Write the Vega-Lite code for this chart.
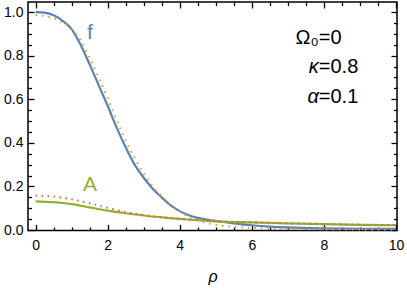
{
  "$schema": "https://vega.github.io/schema/vega-lite/v6.json",
  "width": 369,
  "height": 228.5,
  "autosize": {"type": "none"},
  "padding": {"left": 28, "top": 2, "right": 10, "bottom": 57},
  "background": "white",
  "config": {
    "view": {"stroke": "black", "strokeWidth": 1.5},
    "font": "Liberation Sans",
    "axis": {
      "domain": false,
      "ticks": true,
      "tickColor": "black",
      "tickWidth": 1.3,
      "tickOpacity": 1,
      "labelColor": "black",
      "labelFont": "Liberation Sans",
      "labelFontSize": 14,
      "grid": false,
      "labelOverlap": false,
      "labelFlush": false,
      "zindex": 1
    }
  },
  "datasets": {
    "curves": [
      {"rho": 0, "value": 1.0, "series": "f"},
      {"rho": 0.25, "value": 0.997, "series": "f"},
      {"rho": 0.5, "value": 0.985, "series": "f"},
      {"rho": 0.75, "value": 0.96, "series": "f"},
      {"rho": 1.0, "value": 0.922, "series": "f"},
      {"rho": 1.25, "value": 0.85, "series": "f"},
      {"rho": 1.5, "value": 0.76, "series": "f"},
      {"rho": 1.75, "value": 0.665, "series": "f"},
      {"rho": 2.0, "value": 0.57, "series": "f"},
      {"rho": 2.25, "value": 0.47, "series": "f"},
      {"rho": 2.5, "value": 0.38, "series": "f"},
      {"rho": 2.75, "value": 0.30, "series": "f"},
      {"rho": 3.0, "value": 0.24, "series": "f"},
      {"rho": 3.25, "value": 0.19, "series": "f"},
      {"rho": 3.5, "value": 0.15, "series": "f"},
      {"rho": 3.75, "value": 0.113, "series": "f"},
      {"rho": 4.0, "value": 0.087, "series": "f"},
      {"rho": 4.25, "value": 0.068, "series": "f"},
      {"rho": 4.5, "value": 0.056, "series": "f"},
      {"rho": 4.75, "value": 0.048, "series": "f"},
      {"rho": 5.0, "value": 0.042, "series": "f"},
      {"rho": 5.5, "value": 0.031, "series": "f"},
      {"rho": 6.0, "value": 0.022, "series": "f"},
      {"rho": 6.5, "value": 0.016, "series": "f"},
      {"rho": 7.0, "value": 0.012, "series": "f"},
      {"rho": 8.0, "value": 0.008, "series": "f"},
      {"rho": 9.0, "value": 0.006, "series": "f"},
      {"rho": 10.0, "value": 0.005, "series": "f"},

      {"rho": 0, "value": 0.132, "series": "A"},
      {"rho": 0.5, "value": 0.128, "series": "A"},
      {"rho": 1.0, "value": 0.119, "series": "A"},
      {"rho": 1.5, "value": 0.104, "series": "A"},
      {"rho": 2.0, "value": 0.089, "series": "A"},
      {"rho": 2.5, "value": 0.077, "series": "A"},
      {"rho": 3.0, "value": 0.067, "series": "A"},
      {"rho": 3.5, "value": 0.058, "series": "A"},
      {"rho": 4.0, "value": 0.051, "series": "A"},
      {"rho": 4.5, "value": 0.045, "series": "A"},
      {"rho": 5.0, "value": 0.040, "series": "A"},
      {"rho": 6.0, "value": 0.035, "series": "A"},
      {"rho": 7.0, "value": 0.031, "series": "A"},
      {"rho": 8.0, "value": 0.027, "series": "A"},
      {"rho": 9.0, "value": 0.024, "series": "A"},
      {"rho": 10.0, "value": 0.022, "series": "A"},

      {"rho": 0, "value": 0.985, "series": "f0"},
      {"rho": 0.25, "value": 0.982, "series": "f0"},
      {"rho": 0.5, "value": 0.972, "series": "f0"},
      {"rho": 0.75, "value": 0.952, "series": "f0"},
      {"rho": 1.0, "value": 0.92, "series": "f0"},
      {"rho": 1.25, "value": 0.87, "series": "f0"},
      {"rho": 1.5, "value": 0.79, "series": "f0"},
      {"rho": 1.75, "value": 0.70, "series": "f0"},
      {"rho": 2.0, "value": 0.605, "series": "f0"},
      {"rho": 2.25, "value": 0.505, "series": "f0"},
      {"rho": 2.5, "value": 0.41, "series": "f0"},
      {"rho": 2.75, "value": 0.33, "series": "f0"},
      {"rho": 3.0, "value": 0.26, "series": "f0"},
      {"rho": 3.25, "value": 0.20, "series": "f0"},
      {"rho": 3.5, "value": 0.155, "series": "f0"},
      {"rho": 3.75, "value": 0.115, "series": "f0"},
      {"rho": 4.0, "value": 0.085, "series": "f0"},
      {"rho": 4.25, "value": 0.062, "series": "f0"},
      {"rho": 4.5, "value": 0.045, "series": "f0"},
      {"rho": 4.75, "value": 0.033, "series": "f0"},
      {"rho": 5.0, "value": 0.024, "series": "f0"},
      {"rho": 5.5, "value": 0.015, "series": "f0"},
      {"rho": 6.0, "value": 0.01, "series": "f0"},
      {"rho": 7.0, "value": 0.005, "series": "f0"},
      {"rho": 8.0, "value": 0.003, "series": "f0"},
      {"rho": 9.0, "value": 0.002, "series": "f0"},
      {"rho": 10.0, "value": 0.001, "series": "f0"},

      {"rho": 0, "value": 0.158, "series": "A0"},
      {"rho": 0.5, "value": 0.154, "series": "A0"},
      {"rho": 1.0, "value": 0.141, "series": "A0"},
      {"rho": 1.5, "value": 0.123, "series": "A0"},
      {"rho": 2.0, "value": 0.102, "series": "A0"},
      {"rho": 2.5, "value": 0.083, "series": "A0"},
      {"rho": 3.0, "value": 0.069, "series": "A0"},
      {"rho": 3.5, "value": 0.059, "series": "A0"},
      {"rho": 4.0, "value": 0.051, "series": "A0"},
      {"rho": 4.5, "value": 0.046, "series": "A0"},
      {"rho": 5.0, "value": 0.041, "series": "A0"},
      {"rho": 6.0, "value": 0.035, "series": "A0"},
      {"rho": 7.0, "value": 0.031, "series": "A0"},
      {"rho": 8.0, "value": 0.028, "series": "A0"},
      {"rho": 9.0, "value": 0.025, "series": "A0"},
      {"rho": 10.0, "value": 0.023, "series": "A0"}
    ],
    "labels": [
      {"rho": 1.51, "value": 0.906, "text": "f", "color": "f"},
      {"rho": 1.51, "value": 0.206, "text": "A", "color": "A"}
    ],
    "upright_right": [
      {"rho": 7.86, "value": 0.883, "text": "Ω₀"}
    ],
    "italic_right": [
      {"rho": 7.86, "value": 0.75, "text": "κ"},
      {"rho": 7.86, "value": 0.608, "text": "α"}
    ],
    "upright_left": [
      {"rho": 7.86, "value": 0.883, "text": "=0"},
      {"rho": 7.86, "value": 0.75, "text": "=0.8"},
      {"rho": 7.86, "value": 0.608, "text": "=0.1"}
    ]
  },
  "resolve": {"axis": {"x": "independent", "y": "independent"}},
  "layer": [
    {
      "data": {"name": "curves"},
      "transform": [{"filter": "datum.series == 'f'"}],
      "mark": {"type": "line", "color": "#5E81B5", "strokeWidth": 2.2, "interpolate": "monotone"},
      "encoding": {
        "x": {
          "field": "rho", "type": "quantitative",
          "scale": {"domain": [-0.21, 10.03], "nice": false, "zero": false},
          "axis": {
            "orient": "bottom",
            "offset": -6,
            "values": [0, 2, 4, 6, 8, 10],
            "format": "d",
            "tickSize": 6,
            "labelPadding": 8,
            "title": "ρ",
            "titleFont": "Liberation Sans",
            "titleFontStyle": "italic",
            "titleFontWeight": "normal",
            "titleFontSize": 16,
            "titlePadding": 16
          }
        },
        "y": {
          "field": "value", "type": "quantitative",
          "scale": {"domain": [-0.002, 1.046], "nice": false, "zero": false},
          "axis": {
            "orient": "left",
            "offset": -6,
            "values": [0, 0.2, 0.4, 0.6, 0.8, 1.0],
            "format": ".1f",
            "tickSize": 6,
            "labelPadding": 5,
            "title": null
          }
        }
      }
    },
    {
      "data": {"name": "curves"},
      "transform": [{"filter": "datum.series == 'A'"}],
      "mark": {"type": "line", "color": "#8FB032", "strokeWidth": 2.2, "interpolate": "monotone"},
      "encoding": {
        "x": {
          "field": "rho", "type": "quantitative",
          "axis": {
            "orient": "top",
            "offset": -6,
            "values": [0, 2, 4, 6, 8, 10],
            "labels": false,
            "tickSize": 6,
            "title": null
          }
        },
        "y": {
          "field": "value", "type": "quantitative",
          "axis": {
            "orient": "right",
            "offset": -6,
            "values": [0, 0.2, 0.4, 0.6, 0.8, 1.0],
            "labels": false,
            "tickSize": 6,
            "title": null
          }
        }
      }
    },
    {
      "data": {"name": "curves"},
      "transform": [{"filter": "datum.series == 'f0'"}],
      "mark": {"type": "line", "color": "#E19C24", "strokeWidth": 2, "strokeDash": [1.5, 5], "interpolate": "monotone"},
      "encoding": {
        "x": {
          "field": "rho", "type": "quantitative",
          "axis": {
            "orient": "bottom",
            "offset": -3.5,
            "values": [0.5,1,1.5,2.5,3,3.5,4.5,5,5.5,6.5,7,7.5,8.5,9,9.5],
            "labels": false,
            "tickSize": 3.5,
            "title": null
          }
        },
        "y": {
          "field": "value", "type": "quantitative",
          "axis": {
            "orient": "left",
            "offset": -3.5,
            "values": [0.05,0.1,0.15,0.25,0.3,0.35,0.45,0.5,0.55,0.65,0.7,0.75,0.85,0.9,0.95],
            "labels": false,
            "tickSize": 3.5,
            "title": null
          }
        }
      }
    },
    {
      "data": {"name": "curves"},
      "transform": [{"filter": "datum.series == 'A0'"}],
      "mark": {"type": "line", "color": "#EB6235", "strokeWidth": 2, "strokeDash": [1.5, 4.5], "interpolate": "monotone"},
      "encoding": {
        "x": {
          "field": "rho", "type": "quantitative",
          "axis": {
            "orient": "top",
            "offset": -3.5,
            "values": [0.5,1,1.5,2.5,3,3.5,4.5,5,5.5,6.5,7,7.5,8.5,9,9.5],
            "labels": false,
            "tickSize": 3.5,
            "title": null
          }
        },
        "y": {
          "field": "value", "type": "quantitative",
          "axis": {
            "orient": "right",
            "offset": -3.5,
            "values": [0.05,0.1,0.15,0.25,0.3,0.35,0.45,0.5,0.55,0.65,0.7,0.75,0.85,0.9,0.95],
            "labels": false,
            "tickSize": 3.5,
            "title": null
          }
        }
      }
    },
    {
      "data": {"name": "labels"},
      "mark": {"type": "text", "font": "Liberation Sans", "fontSize": 21, "align": "center", "baseline": "middle"},
      "encoding": {
        "x": {"field": "rho", "type": "quantitative", "axis": null},
        "y": {"field": "value", "type": "quantitative", "axis": null},
        "text": {"field": "text"},
        "color": {
          "field": "color", "type": "nominal", "legend": null,
          "scale": {"domain": ["f", "A"], "range": ["#5E81B5", "#8FB032"]}
        }
      }
    },
    {
      "data": {"name": "upright_right"},
      "mark": {"type": "text", "font": "Liberation Sans", "fontSize": 20, "align": "right", "baseline": "middle", "color": "black"},
      "encoding": {
        "x": {"field": "rho", "type": "quantitative", "axis": null},
        "y": {"field": "value", "type": "quantitative", "axis": null},
        "text": {"field": "text"}
      }
    },
    {
      "data": {"name": "italic_right"},
      "mark": {"type": "text", "font": "Liberation Sans", "fontSize": 20, "fontStyle": "italic", "align": "right", "baseline": "middle", "color": "black"},
      "encoding": {
        "x": {"field": "rho", "type": "quantitative", "axis": null},
        "y": {"field": "value", "type": "quantitative", "axis": null},
        "text": {"field": "text"}
      }
    },
    {
      "data": {"name": "upright_left"},
      "mark": {"type": "text", "font": "Liberation Sans", "fontSize": 20, "align": "left", "baseline": "middle", "color": "black"},
      "encoding": {
        "x": {"field": "rho", "type": "quantitative", "axis": null},
        "y": {"field": "value", "type": "quantitative", "axis": null},
        "text": {"field": "text"}
      }
    }
  ]
}
